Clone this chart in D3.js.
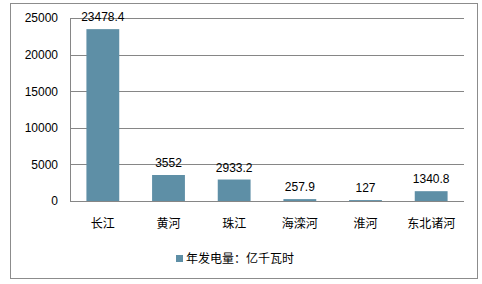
<!DOCTYPE html>
<html>
<head>
<meta charset="utf-8">
<script src="https://cdn.jsdelivr.net/npm/d3@7"></script>
<style>
  body { margin: 0; background: #fff; }
  text { font-family: "Liberation Sans", "Noto Sans CJK SC", sans-serif; fill: #000; }
</style>
</head>
<body>
<div id="chart-area"></div>
<script>
let rivers = ["长江", "黄河", "珠江", "海滦河", "淮河", "东北诸河"];
let power = [23478.4, 3552, 2933.2, 257.9, 127, 1340.8];
let y_ticks = [0, 5000, 10000, 15000, 20000, 25000];
let legend_label = "年发电量：亿千瓦时";

let margin = { left: 70, right: 18, top: 18, bottom: 83 };
let width = 482 - margin.left - margin.right;
let height = 284 - margin.top - margin.bottom;

let svg = d3.select("#chart-area")
  .append("svg")
    .attr("width", 482)
    .attr("height", 284);

// outer frame
svg.append("rect")
  .attr("x", 10.5).attr("y", 3.5)
  .attr("width", 467).attr("height", 275)
  .attr("fill", "none")
  .attr("stroke", "#8c8c8c");

let group = svg.append("g")
  .attr("transform", `translate(${margin.left}, ${margin.top})`);

let x = d3.scaleBand()
  .domain(rivers)
  .range([0, width])
  .paddingInner(0.5)
  .paddingOuter(0.25);

let y = d3.scaleLinear()
  .domain([0, 25000])
  .range([height, 0]);

// gridlines + y ticks
let y_axis = d3.axisLeft(y)
  .tickValues(y_ticks)
  .tickSize(-width)
  .tickPadding(12)
  .tickFormat(d3.format("d"));

let y_group = group.append("g").call(y_axis);
y_group.select(".domain").remove();
y_group.selectAll("line")
  .attr("stroke", "#868686")
  .attr("shape-rendering", "crispEdges");
y_group.selectAll("text")
  .attr("font-size", "12px")
  .attr("fill", "#000");

// left axis line
group.append("line")
  .attr("x1", 0).attr("x2", 0)
  .attr("y1", 0).attr("y2", height)
  .attr("stroke", "#868686")
  .attr("shape-rendering", "crispEdges");

// bars
group.selectAll("rect.bar")
  .data(rivers)
  .enter()
  .append("rect")
    .attr("class", "bar")
    .attr("x", d => x(d))
    .attr("y", (d, i) => y(power[i]))
    .attr("width", x.bandwidth())
    .attr("height", (d, i) => height - y(power[i]))
    .attr("fill", "#5e8fa6");

// value labels
group.selectAll("text.value")
  .data(rivers)
  .enter()
  .append("text")
    .attr("class", "value")
    .attr("x", d => x(d) + x.bandwidth() / 2)
    .attr("y", (d, i) => y(power[i]) - 8)
    .attr("text-anchor", "middle")
    .attr("font-size", "12px")
    .text((d, i) => power[i]);

// x axis line
group.append("line")
  .attr("x1", 0).attr("x2", width)
  .attr("y1", height).attr("y2", height)
  .attr("stroke", "#868686")
  .attr("shape-rendering", "crispEdges");

// category labels
group.selectAll("text.cat")
  .data(rivers)
  .enter()
  .append("text")
    .attr("class", "cat")
    .attr("x", d => x(d) + x.bandwidth() / 2)
    .attr("y", height + 27)
    .attr("text-anchor", "middle")
    .attr("font-size", "12px")
    .attr("font-family", "Noto Sans CJK SC")
    .text(d => d);

// legend
svg.append("rect")
  .attr("x", 176).attr("y", 255)
  .attr("width", 7).attr("height", 7)
  .attr("fill", "#5e8fa6");

svg.append("text")
  .attr("x", 186)
  .attr("y", 263)
  .attr("font-size", "12px")
  .attr("font-family", "Noto Sans CJK SC")
  .text(legend_label);
</script>
</body>
</html>
